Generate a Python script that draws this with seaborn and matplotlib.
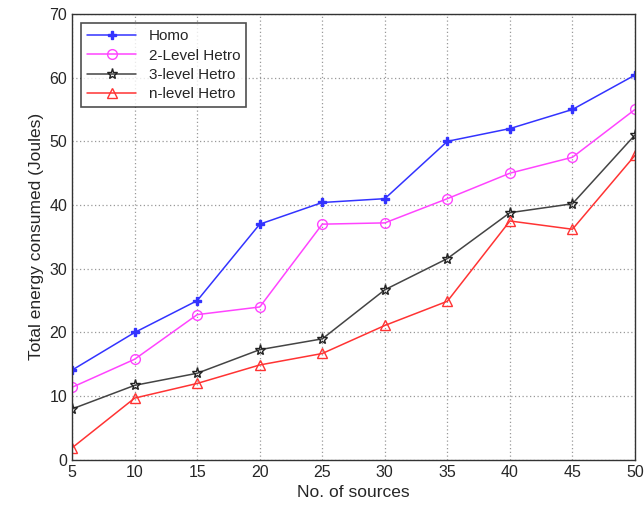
import matplotlib
matplotlib.use("Agg")
import matplotlib.pyplot as plt
import seaborn as sns
import pandas as pd

sources = [5, 10, 15, 20, 25, 30, 35, 40, 45, 50]
homo = [14.1, 20.0, 25.0, 37.0, 40.4, 41.0, 50.0, 52.0, 55.0, 60.4]
level2 = [11.4, 15.8, 22.8, 24.0, 37.0, 37.2, 41.0, 45.0, 47.5, 55.0]
level3 = [8.0, 11.7, 13.6, 17.3, 19.0, 26.7, 31.6, 38.8, 40.2, 51.0]
leveln = [1.9, 9.7, 12.0, 14.9, 16.7, 21.1, 24.9, 37.5, 36.2, 47.8]
series_names = ["Homo", "2-Level Hetro", "3-level Hetro", "n-level Hetro"]

sns.set_style("white")
plt.rcParams['font.family'] = ['Liberation Sans', 'DejaVu Sans']

fig = plt.figure(figsize=(6.44, 5.15), dpi=100)
ax = fig.add_axes([0.112, 0.107, 0.874, 0.866])

styles = [
    dict(color="#3333ff", marker="P", mfc="#3333ff", mec="#3333ff", ms=5.5),
    dict(color="#ff44ff", marker="o", mfc="none", mec="#ff44ff", ms=7),
    dict(color="#444444", marker="*", mfc="none", mec="#222222", ms=8),
    dict(color="#ff3333", marker="^", mfc="none", mec="#ff3333", ms=7),
]

for name, vals, st in zip(series_names, [homo, level2, level3, leveln], styles):
    df = pd.DataFrame({"x": sources, "y": vals})
    sns.lineplot(data=df, x="x", y="y", ax=ax, label=name, color=st["color"],
                 marker=st["marker"], markerfacecolor=st["mfc"],
                 markeredgecolor=st["mec"], markersize=st["ms"],
                 markeredgewidth=1.0, linewidth=1.1)

ax.set_xlim(5, 50)
ax.set_ylim(0, 70)
ax.set_xticks(sources)
ax.set_yticks(range(0, 71, 10))
ax.grid(True, linestyle=(0, (1, 2)), color="#999999", linewidth=0.9)
for s in ax.spines.values():
    s.set_color("#333333")
    s.set_linewidth(1.0)
ax.tick_params(axis="both", direction="in", length=4, labelsize=11.5, color="#333333")
ax.set_xlabel("No. of sources", fontsize=12.5)
ax.set_ylabel("Total energy consumed (Joules)", fontsize=12.5)

leg = ax.legend(loc="upper left", fontsize=11, frameon=True, fancybox=False,
                edgecolor="#222222", borderaxespad=0.6, handlelength=3.2,
                labelspacing=0.35)
leg.get_frame().set_linewidth(1.2)

fig.savefig("out.png", dpi=100)
